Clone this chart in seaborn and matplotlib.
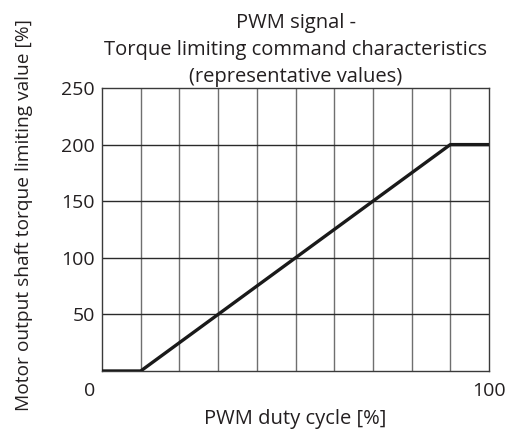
import matplotlib
matplotlib.use("Agg")
import matplotlib.pyplot as plt
import matplotlib.transforms as mtransforms
import seaborn as sns
import pandas as pd

# Command characteristic: duty cycle [%] -> torque limiting value [%]
duty_cycle = [0, 10, 90, 100]
torque_limit = [0, 0, 200, 200]

x_ticks = [0, 100]
x_tick_labels = ["0", "100"]
y_ticks = [50, 100, 150, 200, 250]
y_tick_labels = ["50", "100", "150", "200", "250"]

title = "PWM signal -\nTorque limiting command characteristics\n(representative values)"
x_label = "PWM duty cycle [%]"
y_label = "Motor output shaft torque limiting value [%]"

TEXT = "#231f20"

sns.set_theme(style="white")
plt.rcParams["font.family"] = ["Open Sans", "DejaVu Sans"]

df = pd.DataFrame({"duty": duty_cycle, "torque": torque_limit})

fig = plt.figure(figsize=(5.08, 4.32), dpi=100)
ax = fig.add_axes([102 / 508, 1 - 371 / 432, (489 - 102) / 508, (371 - 88) / 432])

sns.lineplot(data=df, x="duty", y="torque", ax=ax, color="#1a1a1a", linewidth=2.4,
             zorder=3)

ax.set_xlim(0, 100)
ax.set_ylim(0, 250)

# grid: verticals every 10 %, horizontals every 50 %
for xv in range(10, 100, 10):
    ax.axvline(xv, color="#6f6f6f", linewidth=1.0, zorder=1)
for yv in range(50, 250, 50):
    ax.axhline(yv, color="#2a2a2a", linewidth=1.0, zorder=1)

for sp in ax.spines.values():
    sp.set_color("#3a3a3a")
    sp.set_linewidth(1.0)

ax.set_xticks(x_ticks)
ax.set_xticklabels(x_tick_labels)
ax.set_yticks(y_ticks)
ax.set_yticklabels(y_tick_labels)
ax.tick_params(axis="both", length=0, labelsize=14, colors=TEXT)
ax.tick_params(axis="x", pad=8)
ax.tick_params(axis="y", pad=5)

# origin label sits left of the corner
lbl0 = ax.get_xticklabels()[0]
lbl0.set_transform(lbl0.get_transform() +
                   mtransforms.ScaledTranslation(-12 / 100, 0, fig.dpi_scale_trans))

ax.set_xlabel(x_label, fontsize=14.5, color=TEXT)
ax.xaxis.set_label_coords(0.5, -(409 - 371) / 283)
ax.set_ylabel(y_label, fontsize=13.8, color=TEXT)
ax.yaxis.set_label_coords(-(102 - 33) / 387, 0.551)
ax.set_title(title, fontsize=14.5, color=TEXT, linespacing=1.45, pad=4.5)

fig.savefig("out.png", dpi=100)
